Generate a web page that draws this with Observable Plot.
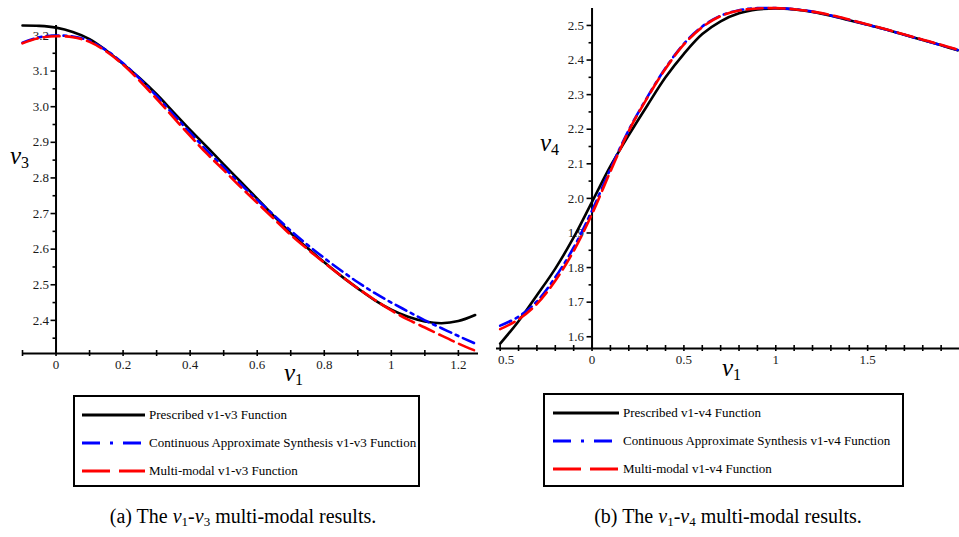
<!DOCTYPE html>
<html><head><meta charset="utf-8">
<script src="https://cdn.jsdelivr.net/npm/d3@7"></script>
<script src="https://cdn.jsdelivr.net/npm/@observablehq/plot@0.6"></script>
<style>
body{margin:0;background:#fff;font-family:"Liberation Serif","Times New Roman",serif;color:#000;}
#wrap{position:relative;width:959px;height:537px;overflow:hidden;background:#fff;}
#wrap svg text{font-family:"Liberation Serif","Times New Roman",serif !important;}
.pl{position:absolute;top:0;}
.axlab{position:absolute;font-style:italic;font-size:25px;line-height:1;white-space:nowrap;}
.axlab sub{font-style:normal;font-size:16px;vertical-align:-4px;}
.legend{position:absolute;border:2px solid #000;box-sizing:border-box;background:#fff;}
.row{position:absolute;left:0;height:20px;display:flex;align-items:center;white-space:nowrap;font-size:13px;}
.row svg{display:block;}
.caption{position:absolute;font-size:20px;white-space:nowrap;transform:translateX(-50%);line-height:1;}
.caption sub{font-size:13px;vertical-align:-3px;}
</style></head>
<body><div id="wrap">
<div id="left" class="pl" style="left:0"></div>
<div id="right" class="pl" style="left:490px"></div>
<div class="axlab" style="left:10px;top:143px"><span>v</span><sub>3</sub></div>
<div class="axlab" style="left:284px;top:360px"><span>v</span><sub>1</sub></div>
<div class="axlab" style="left:540px;top:130px"><span>v</span><sub>4</sub></div>
<div class="axlab" style="left:722px;top:355px"><span>v</span><sub>1</sub></div>
<div id="legL" class="legend" style="left:73px;top:395px;width:347px;height:92px"></div>
<div id="legR" class="legend" style="left:543px;top:393px;width:361px;height:94px"></div>
<div class="caption" style="left:243px;top:506px">(a) The <i>v</i><sub>1</sub>-<i>v</i><sub>3</sub> multi-modal results.</div>
<div class="caption" style="left:728px;top:506px">(b) The <i>v</i><sub>1</sub>-<i>v</i><sub>4</sub> multi-modal results.</div>
</div>
<script>
// ---------- Left chart (v1-v3) ----------
const leftV1 = [-0.1,-0.05,0,0.05,0.1,0.15,0.2,0.25,0.3,0.35,0.4,0.45,0.5,0.55,0.6,0.65,0.7,0.75,0.8,0.85,0.9,0.95,1.0,1.05,1.1,1.15,1.2,1.25];
const leftPrescribed = [3.228,3.227,3.222,3.21,3.19,3.158,3.12,3.08,3.035,2.985,2.935,2.887,2.838,2.79,2.742,2.693,2.645,2.603,2.563,2.525,2.49,2.457,2.43,2.41,2.397,2.392,2.398,2.415];
const leftContinuous = [3.18,3.195,3.2,3.197,3.185,3.158,3.122,3.078,3.03,2.978,2.927,2.877,2.83,2.783,2.738,2.695,2.652,2.612,2.575,2.54,2.507,2.477,2.45,2.425,2.4,2.378,2.356,2.335];
const leftMulti = [3.178,3.193,3.198,3.195,3.182,3.155,3.118,3.072,3.022,2.97,2.918,2.868,2.822,2.775,2.73,2.685,2.64,2.6,2.562,2.525,2.49,2.458,2.428,2.402,2.38,2.357,2.335,2.315];
const leftXTicks = [0,0.2,0.4,0.6,0.8,1,1.2];
const leftXTickLabels = ["0","0.2","0.4","0.6","0.8","1","1.2"];
const leftXMinor = [-0.1,0,0.1,0.2,0.3,0.4,0.5,0.6,0.7,0.8,0.9,1.0,1.1,1.2];
const leftYTicks = [2.4,2.5,2.6,2.7,2.8,2.9,3.0,3.1,3.2];
const leftYTickLabels = ["2.4","2.5","2.6","2.7","2.8","2.9","3.0","3.1","3.2"];
const leftYMinor = [2.35,2.45,2.55,2.65,2.75,2.85,2.95,3.05,3.15];
const leftNames = ["Prescribed v1-v3 Function","Continuous Approximate Synthesis v1-v3 Function","Multi-modal v1-v3 Function"];

// ---------- Right chart (v1-v4) ----------
const rightV1 = [-0.5,-0.4,-0.3,-0.2,-0.1,0,0.1,0.2,0.3,0.4,0.5,0.6,0.7,0.8,0.9,1.0,1.1,1.2,1.3,1.4,1.5,1.6,1.7,1.8,1.9,1.99];
const rightPrescribed = [1.58,1.645,1.72,1.797,1.887,1.99,2.093,2.183,2.268,2.35,2.418,2.475,2.512,2.535,2.546,2.549,2.546,2.539,2.528,2.515,2.502,2.488,2.473,2.458,2.443,2.428];
const rightContinuous = [1.632,1.658,1.702,1.772,1.858,1.965,2.085,2.198,2.292,2.377,2.447,2.497,2.528,2.544,2.55,2.55,2.547,2.54,2.529,2.516,2.502,2.488,2.473,2.458,2.443,2.429];
const rightMulti = [1.622,1.65,1.695,1.762,1.848,1.955,2.078,2.195,2.29,2.375,2.445,2.495,2.527,2.543,2.549,2.55,2.547,2.54,2.53,2.517,2.503,2.489,2.474,2.459,2.444,2.43];
const rightXTicks = [-0.5,0,0.5,1,1.5];
const rightXTickLabels = ["0.5","0","0.5","1","1.5"];
const rightXMinor = [-0.5,-0.4,-0.3,-0.2,-0.1,0,0.1,0.2,0.3,0.4,0.5,0.6,0.7,0.8,0.9,1.0,1.1,1.2,1.3,1.4,1.5,1.6,1.7,1.8,1.9];
const rightYTicks = [1.6,1.7,1.8,1.9,2.0,2.1,2.2,2.3,2.4,2.5];
const rightYTickLabels = ["1.6","1.7","1.8","1.9","2.0","2.1","2.2","2.3","2.4","2.5"];
const rightYMinor = [1.65,1.75,1.85,1.95,2.05,2.15,2.25,2.35,2.45];
const rightNames = ["Prescribed v1-v4 Function","Continuous Approximate Synthesis v1-v4 Function","Multi-modal v1-v4 Function"];

const styles = [
  {stroke:"#000000", dash:null, legendDash:null},
  {stroke:"#0000ff", dash:"12,5,3,5", legendDash:"18,10,3,10"},
  {stroke:"#ff0000", dash:"16,6", legendDash:"28,9"}
];
const SERIF = "Liberation Serif";

function makeChart(cfg) {
  const {xs, series, xDomain, yDomain, width, height, margin,
         xTicks, xLabels, xMinor, yTicks, yLabels, yMinor, yLabelDx, firstLabelDx} = cfg;
  const rows = [];
  series.forEach((vals, s) => vals.forEach((v, i) => rows.push({x: xs[i], y: v, s})));
  const yMin = yDomain[0], yTop = yDomain[1];
  const xt = xTicks.map((v, i) => ({v, t: xLabels[i], i}));
  const yt = yTicks.map((v, i) => ({v, t: yLabels[i]}));
  const txt = {fontSize: 13, fill: "#1a1a1a", fontFamily: SERIF};
  const marks = [
    Plot.ruleY([yMin], {x1: () => xDomain[0], x2: () => xDomain[1], stroke: "#000", strokeWidth: 2}),
    Plot.ruleX([0], {y1: () => yMin, y2: () => yTop, stroke: "#000", strokeWidth: 2}),
    Plot.ruleY(yMinor, {x1: () => 0, x2: () => 0, insetLeft: -3, stroke: "#000", strokeWidth: 1.6}),
    Plot.ruleY(yTicks, {x1: () => 0, x2: () => 0, insetLeft: -5, stroke: "#000", strokeWidth: 1.6}),
    Plot.ruleX(xMinor, {y1: () => yMin, y2: () => yMin, insetTop: -3, insetBottom: -3, stroke: "#000", strokeWidth: 1.6}),
    Plot.text(yt, {x: () => 0, y: "v", text: "t", textAnchor: "end", dx: yLabelDx, ...txt}),
    Plot.text(xt.filter(d => d.i > 0 || !firstLabelDx), {x: "v", y: () => yMin, text: "t", dy: 11, ...txt}),
  ];
  if (firstLabelDx) marks.push(Plot.text(xt.filter(d => d.i === 0), {x: "v", y: () => yMin, text: "t", dy: 11, dx: firstLabelDx, ...txt}));
  styles.forEach((st, s) => {
    marks.push(Plot.line(rows.filter(r => r.s === s), {x: "x", y: "y", stroke: st.stroke, strokeWidth: 2.6,
      strokeDasharray: st.dash, curve: "catmull-rom"}));
  });
  return Plot.plot({
    width, height,
    marginLeft: margin[0], marginRight: margin[1], marginTop: margin[2], marginBottom: margin[3],
    x: {domain: xDomain, axis: null},
    y: {domain: yDomain, axis: null},
    style: {fontFamily: SERIF, background: "transparent", overflow: "visible"},
    marks
  });
}

document.getElementById("left").appendChild(makeChart({
  xs: leftV1, series: [leftPrescribed, leftContinuous, leftMulti],
  xDomain: [-0.1, 1.26], yDomain: [2.307, 3.228], width: 490, height: 400, margin: [22, 12, 25, 47],
  xTicks: leftXTicks, xLabels: leftXTickLabels, xMinor: leftXMinor,
  yTicks: leftYTicks, yLabels: leftYTickLabels, yMinor: leftYMinor, yLabelDx: -7, firstLabelDx: 0
}));
document.getElementById("right").appendChild(makeChart({
  xs: rightV1, series: [rightPrescribed, rightContinuous, rightMulti],
  xDomain: [-0.52, 2.0], yDomain: [1.566, 2.549], width: 469, height: 400, margin: [6, 0, 8, 52],
  xTicks: rightXTicks, xLabels: rightXTickLabels, xMinor: rightXMinor,
  yTicks: rightYTicks, yLabels: rightYTickLabels, yMinor: rightYMinor, yLabelDx: -8, firstLabelDx: 6
}));

function legend(id, names, lineX, lineW, textX) {
  const el = document.getElementById(id);
  const tops = [8, 36, 64];
  names.forEach((n, i) => {
    const row = document.createElement("div");
    row.className = "row";
    row.style.top = tops[i] + "px";
    row.style.left = lineX + "px";
    const st = styles[i];
    row.innerHTML = `<svg width="${lineW}" height="20"><line x1="0" y1="10" x2="${lineW}" y2="10" stroke="${st.stroke}" stroke-width="3.2"${st.legendDash ? ` stroke-dasharray="${st.legendDash}"` : ""}/></svg><span style="margin-left:${textX}px">${n}</span>`;
    el.appendChild(row);
  });
}
legend("legL", leftNames, 7, 63, 4);
legend("legR", rightNames, 8, 66, 4);
</script>
</body></html>
